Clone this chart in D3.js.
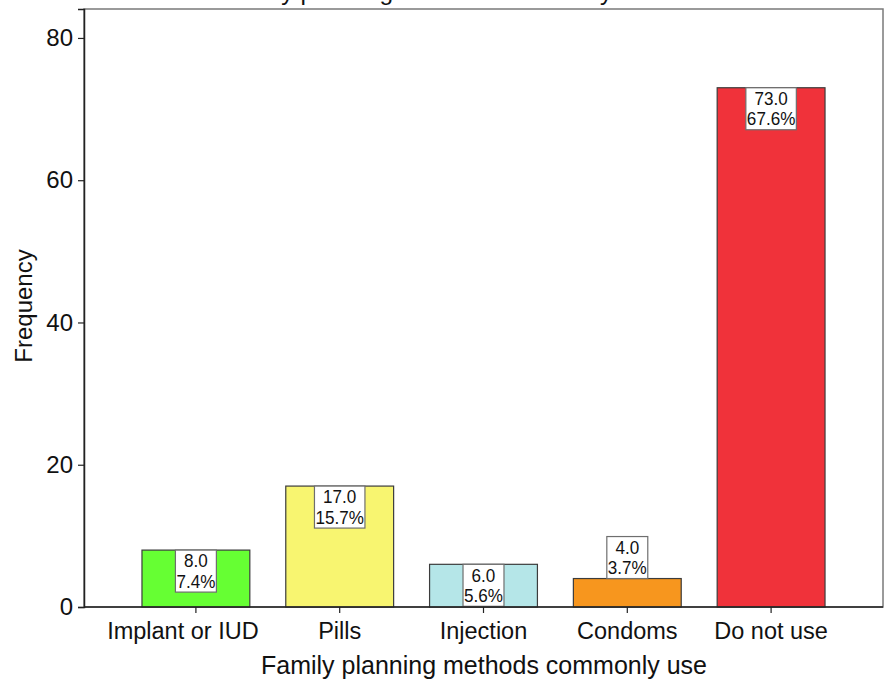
<!DOCTYPE html>
<html><head><meta charset="utf-8">
<script src="https://cdn.jsdelivr.net/npm/d3@7"></script>
<style>body{margin:0;background:#fff;} svg{display:block;font-family:"Liberation Sans",Arial,sans-serif;}</style>
</head><body>
<svg id="chart" width="885" height="681"></svg>
<script>
const categories = ["Implant or IUD", "Pills", "Injection", "Condoms", "Do not use"];
const frequencies = [8, 17, 6, 4, 73];
const percents = [7.4, 15.7, 5.6, 3.7, 67.6];
const colors = ["#66ff33", "#f8f570", "#b5e6e8", "#f7961e", "#f0323a"];
const yTicks = [0, 20, 40, 60, 80];

(function () {
const svg = d3.select("#chart");
const pLeft = 84, pRight = 883, pTop = 9, pBottom = 607;

const x = d3.scaleBand().domain(categories).range([124, 843]).paddingInner(0.25).paddingOuter(0.125);
const y = d3.scaleLinear().domain([0, 84.07]).range([pBottom, pTop]);

// title (cut off at top, as in the reference)
svg.append("text").attr("x", 440).attr("y", 0).attr("text-anchor", "middle")
  .attr("font-size", 24.5).attr("fill", "#111").text("Family planning methods commonly use");

// frame
svg.append("rect").attr("x", pLeft).attr("y", pTop).attr("width", pRight - pLeft).attr("height", pBottom - pTop)
  .attr("fill", "#fff").attr("stroke", "#7a7a7a").attr("stroke-width", 1.5);

// bars
svg.selectAll("rect.bar").data(categories).enter().append("rect").attr("class", "bar")
  .attr("x", d => x(d)).attr("width", x.bandwidth())
  .attr("y", (d, i) => y(frequencies[i])).attr("height", (d, i) => pBottom - y(frequencies[i]))
  .attr("fill", (d, i) => colors[i]).attr("stroke", "#3c3c3c").attr("stroke-width", 1.2);

// labels
const sx = 0.95;
const fs = 18;
categories.forEach((c, i) => {
  const cx = x(c) + x.bandwidth() / 2;
  const l1 = frequencies[i].toFixed(1), l2 = percents[i].toFixed(1) + "%";
  const h = 42;
  const barTop = y(frequencies[i]);
  const boxTop = (pBottom - barTop) < h ? barTop - h : barTop;
  const g = svg.append("g");
  const rect = g.append("rect").attr("y", boxTop).attr("height", h)
    .attr("fill", "#fff").attr("stroke", "#6e6e6e").attr("stroke-width", 1.2);
  const t1 = g.append("text").attr("transform", `translate(${cx},${boxTop + 17.2}) scale(${sx},1)`)
    .attr("text-anchor", "middle").attr("font-size", fs).attr("fill", "#111").text(l1);
  const t2 = g.append("text").attr("transform", `translate(${cx},${boxTop + 37.5}) scale(${sx},1)`)
    .attr("text-anchor", "middle").attr("font-size", fs).attr("fill", "#111").text(l2);
  const w = Math.max(t1.node().getComputedTextLength(), t2.node().getComputedTextLength()) * sx + 2;
  rect.attr("x", cx - w / 2).attr("width", w);
});

// y axis
const yAxis = svg.append("g").attr("transform", `translate(${pLeft},0)`)
  .call(d3.axisLeft(y).tickValues(yTicks).tickSize(6).tickPadding(5));
yAxis.select(".domain").attr("stroke", "#222").attr("stroke-width", 1.5);
yAxis.selectAll(".tick line").attr("stroke", "#222").attr("stroke-width", 1.2);
yAxis.selectAll(".tick text").attr("font-size", 24).attr("fill", "#111").attr("font-family", "Liberation Sans, Arial, sans-serif");

// x axis
const xAxis = svg.append("g").attr("transform", `translate(0,${pBottom})`)
  .call(d3.axisBottom(x).tickSize(6).tickPadding(9));
xAxis.select(".domain").remove();
svg.append("line").attr("x1", pLeft).attr("x2", pRight).attr("y1", pBottom).attr("y2", pBottom)
  .attr("stroke", "#222").attr("stroke-width", 1.5);
xAxis.selectAll(".tick line").attr("stroke", "#222").attr("stroke-width", 1.2);
xAxis.selectAll(".tick text").attr("font-size", 23.5).attr("fill", "#111").attr("font-family", "Liberation Sans, Arial, sans-serif")
  .attr("dx", (d, i) => i === 0 ? -13 : 0);

// axis titles
svg.append("text").attr("x", 484).attr("y", 674).attr("text-anchor", "middle")
  .attr("font-size", 25).attr("fill", "#111").text("Family planning methods commonly use");
svg.append("text").attr("transform", "translate(32,306) rotate(-90)").attr("text-anchor", "middle")
  .attr("font-size", 24).attr("fill", "#111").text("Frequency");
})();
</script>
</body></html>
